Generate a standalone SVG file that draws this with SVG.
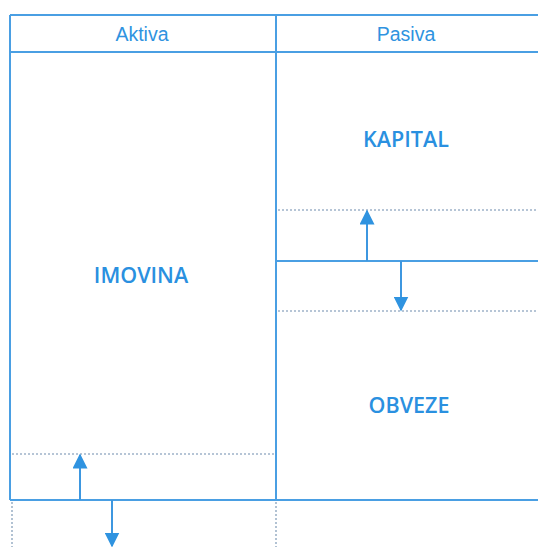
<svg xmlns="http://www.w3.org/2000/svg" width="538" height="547" viewBox="0 0 538 547">
  <defs>
    <style>
      .frame { fill: none; stroke: #4a9fe3; stroke-width: 2; }
      .dots { fill: none; stroke: #9fb3c9; stroke-width: 1.6; stroke-dasharray: 2 2; }
      .flow { fill: none; stroke: #3d97e0; stroke-width: 2; }
      .head { font-family: "Liberation Sans", Arial, sans-serif; font-size: 19.5px; fill: #2f93e0; text-anchor: middle; }
      .title { font-family: "Open Sans", "Noto Sans", sans-serif; font-weight: 600; font-size: 21.5px; fill: #2a90e0; text-anchor: middle; }
    </style>
    <marker id="tip" viewBox="0 0 10 10" refX="9" refY="5" markerWidth="7.5" markerHeight="7.5" orient="auto" markerUnits="strokeWidth">
      <path d="M0,0 L10,5 L0,10 Z" fill="#2f93e0"/>
    </marker>
  </defs>
  <rect width="538" height="547" fill="#ffffff"/>

  <!-- balance sheet frame -->
  <g id="frame">
    <line class="frame" x1="10" y1="15" x2="538" y2="15"/>
    <line class="frame" x1="10" y1="52" x2="538" y2="52"/>
    <line class="frame" x1="10" y1="15" x2="10" y2="500"/>
    <line class="frame" x1="276" y1="15" x2="276" y2="500"/>
    <line class="frame" x1="10" y1="500" x2="538" y2="500"/>
    <line class="frame" x1="276" y1="261" x2="538" y2="261"/>
  </g>

  <!-- change bands -->
  <g id="bands">
    <line class="dots" x1="12" y1="454" x2="275" y2="454"/>
    <line class="dots" x1="278" y1="210" x2="538" y2="210"/>
    <line class="dots" x1="278" y1="311" x2="538" y2="311"/>
    <line class="dots" x1="12" y1="502" x2="12" y2="547"/>
    <line class="dots" x1="276" y1="502" x2="276" y2="547"/>
  </g>

  <g id="aktiva">
    <text class="head" x="142" y="41">Aktiva</text>
  </g>
  <g id="pasiva">
    <text class="head" x="406" y="41">Pasiva</text>
  </g>
  <g id="imovina">
    <text class="title" x="141" y="283">IMOVINA</text>
  </g>
  <g id="kapital">
    <text class="title" x="406" y="147">KAPITAL</text>
  </g>
  <g id="obveze">
    <text class="title" x="409" y="413">OBVEZE</text>
  </g>

  <!-- arrows -->
  <g id="connectors">
    <line class="flow" x1="80" y1="500" x2="80" y2="455" marker-end="url(#tip)"/>
    <line class="flow" x1="112" y1="500" x2="112" y2="546" marker-end="url(#tip)"/>
    <line class="flow" x1="367" y1="261" x2="367" y2="211" marker-end="url(#tip)"/>
    <line class="flow" x1="401" y1="261" x2="401" y2="310" marker-end="url(#tip)"/>
  </g>
</svg>
